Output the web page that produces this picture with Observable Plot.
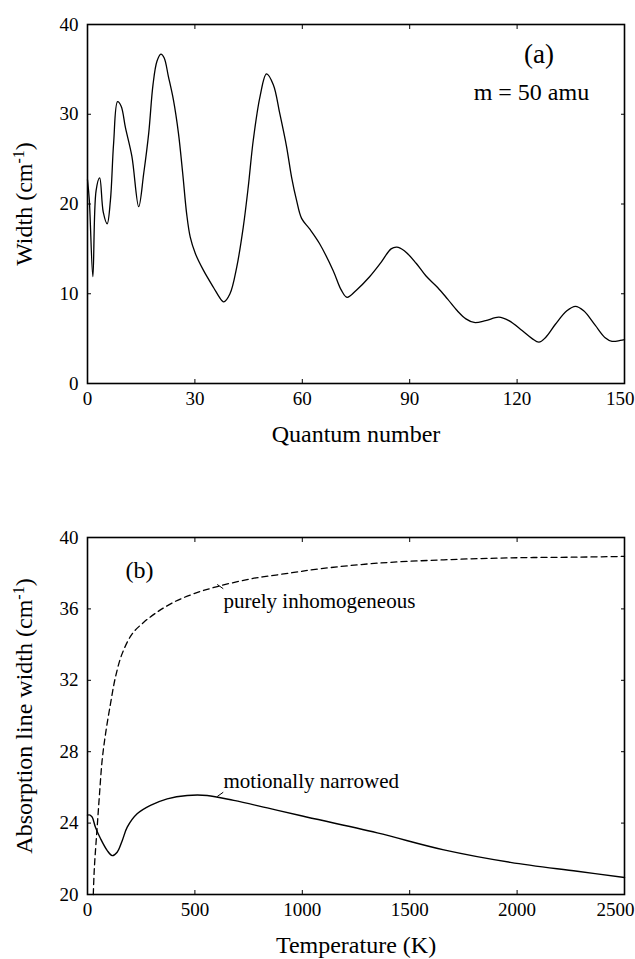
<!DOCTYPE html>
<html>
<head>
<meta charset="utf-8">
<script src="https://cdn.jsdelivr.net/npm/d3@7"></script>
<script src="https://cdn.jsdelivr.net/npm/@observablehq/plot@0.6"></script>
<style>
  body { margin: 0; background: #fff; }
  #chart { width: 635px; }
  #chart svg { display: block; }
  #chart svg text { font-family: "Liberation Serif", "Times New Roman", Times, serif; }
</style>
</head>
<body>
<div id="chart"></div>
<script>
// ---------- Panel (a): width vs quantum number ----------
const quantumN = [0, 0.5, 1.5, 2.4, 3.4, 4.4, 5.5, 6.4, 7.3, 8.4, 9.4, 10.6, 12.4, 14.3, 15.7, 17.1, 18.3, 19.4, 20.5, 21.4,
  22.6, 24.0, 25.4, 26.6, 27.7, 28.7, 30.1, 32.4, 35.2, 37.5, 38.1, 39.8, 41.7, 43.5, 44.9, 46.3, 48.2, 50.0, 51.9, 53.7,
  55.6, 57.0, 58.4, 59.8, 62.1, 64.8, 68.6, 70.9, 72.5, 75.1, 78.8, 82.0, 84.8, 86.4, 88.5, 91.8, 94.5, 97.8, 100.6, 103.3,
  105.7, 108.0, 111.2, 114.9, 117.7, 121.4, 124.2, 126.1, 127.9, 130.7, 133.9, 136.3, 138.6, 141.8, 144.6, 146.5, 148.8, 150];
const widthA = [22.7, 20.5, 11.9, 21.5, 22.9, 19.1, 17.8, 20.4, 26.8, 31.4, 30.9, 28.5, 25.3, 19.7, 23.4, 27.9, 33.3, 35.9, 36.7, 36.3,
  34.2, 31.6, 27.9, 23.4, 18.9, 16.3, 14.5, 12.6, 10.7, 9.25, 9.1, 10.0, 13.0, 17.4, 21.9, 27.1, 32.0, 34.5, 33.3, 30.1,
  26.4, 23.0, 20.4, 18.4, 17.2, 15.6, 12.6, 10.4, 9.6, 10.4, 11.9, 13.5, 15.0, 15.2, 14.8, 13.4, 12.0, 10.7, 9.4, 8.1,
  7.2, 6.8, 7.0, 7.4, 7.0, 5.9, 5.0, 4.6, 5.1, 6.6, 8.1, 8.6, 8.1, 6.5, 5.1, 4.7, 4.8, 4.9];
const xTicksA = [0, 30, 60, 90, 120, 150];
const yTicksA = [0, 10, 20, 30, 40];
const xTitleA = "Quantum number";
const yTitleA = ["Width (cm", "-1", ")"];
const panelLabelA = "(a)";
const massLabel = "m = 50 amu";
const annotAx = [126.1, 124.0];
const annotAy = [36.68, 32.48];

// ---------- Panel (b): absorption line width vs temperature ----------
const tempInhomo = [27, 30, 34, 45, 56, 68, 84, 107, 130, 161, 208, 262, 324, 402, 495, 604, 759, 914, 1085, 1349, 1659, 1969, 2280, 2500];
const widthInhomo = [20.0, 21.0, 21.9, 23.77, 25.64, 27.5, 29.0, 30.68, 32.17, 33.48, 34.6, 35.25, 35.82, 36.38, 36.85, 37.25, 37.68, 37.96, 38.25, 38.56, 38.75, 38.86, 38.9, 38.94];
const tempNarrow = [0, 12, 22, 37, 61, 92, 115, 138, 162, 185, 231, 293, 371, 464, 557, 681, 837, 1000, 1349, 1659, 1969, 2280, 2500];
const widthNarrow = [24.45, 24.45, 24.33, 23.77, 23.12, 22.46, 22.18, 22.37, 23.03, 23.77, 24.52, 24.99, 25.36, 25.55, 25.55, 25.27, 24.85, 24.4, 23.45, 22.5, 21.8, 21.3, 20.95];
const xTicksB = [0, 500, 1000, 1500, 2000, 2500];
const yTicksB = [20, 24, 28, 32, 36, 40];
const xTitleB = "Temperature (K)";
const yTitleB = ["Absorption line width (cm", "-1", ")"];
const panelLabelB = "(b)";
const curveLabels = ["purely inhomogeneous", "motionally narrowed"];
const curveLabelT = [633, 633];
const curveLabelW = [36.40, 26.37];
const leaderT1 = [604, 604], leaderW1 = [37.37, 25.49];
const leaderT2 = [632, 632], leaderW2 = [37.13, 25.73];

// ---------- build ----------
const font = "Liberation Serif, Times New Roman, Times, serif";
const style = {fontFamily: font, fontSize: "19px", color: "black", background: "white", overflow: "visible"};

function frameAxes(xTicks, yTicks) {
  const xIn = xTicks.slice(0, -1), xLast = xTicks.slice(-1);
  return [
    Plot.axisX(xIn, {anchor: "bottom", tickSize: 0, tickPadding: 8, label: null, fontFamily: font, fontSize: 19, tickFormat: d => String(d)}),
    Plot.axisX(xLast, {anchor: "bottom", tickSize: 0, tickPadding: 8, label: null, fontFamily: font, fontSize: 19, tickFormat: d => String(d), textAnchor: "end", dx: 10}),
    Plot.axisX(xTicks, {anchor: "bottom", tickSize: -4, tickFormat: () => "", label: null}),
    Plot.axisX(xTicks, {anchor: "top", tickSize: -4, tickFormat: () => "", label: null}),
    Plot.axisY(yTicks, {anchor: "left", tickSize: 0, tickPadding: 9, label: null, fontFamily: font, fontSize: 19, tickFormat: d => String(d)}),
    Plot.axisY(yTicks, {anchor: "left", tickSize: -4, tickFormat: () => "", label: null}),
    Plot.axisY(yTicks, {anchor: "right", tickSize: -4, tickFormat: () => "", label: null}),
    Plot.frame({stroke: "black", strokeWidth: 1.6})
  ];
}

function superscript(svg, parts) {
  const full = parts.join("");
  const ns = "http://www.w3.org/2000/svg";
  svg.querySelectorAll("text").forEach(t => {
    if (t.textContent === full) {
      t.textContent = "";
      t.appendChild(document.createTextNode(parts[0]));
      const s = document.createElementNS(ns, "tspan");
      s.setAttribute("dy", "-8");
      s.setAttribute("font-size", "16");
      s.textContent = parts[1];
      t.appendChild(s);
      const e = document.createElementNS(ns, "tspan");
      e.setAttribute("dy", "8");
      e.textContent = parts[2];
      t.appendChild(e);
    }
  });
}

const dataA = quantumN.map((n, i) => ({n, w: widthA[i]}));
const annA = [
  {x: annotAx[0], y: annotAy[0], label: panelLabelA},
  {x: annotAx[1], y: annotAy[1], label: massLabel}
];

const plotA = Plot.plot({
  width: 635, height: 460,
  marginLeft: 87, marginRight: 11, marginTop: 24, marginBottom: 77,
  x: {domain: [0, 150]},
  y: {domain: [0, 40]},
  style,
  marks: [
    ...frameAxes(xTicksA, yTicksA),
    Plot.line(dataA, {x: "n", y: "w", curve: "catmull-rom", stroke: "black", strokeWidth: 1.3}),
    Plot.text([xTitleA], {frameAnchor: "bottom", dy: 51, fontSize: 24, fontFamily: font, lineAnchor: "middle", textAnchor: "middle", text: d => d}),
    Plot.text([yTitleA.join("")], {frameAnchor: "left", dx: -63, rotate: -90, fontSize: 24, fontFamily: font, lineAnchor: "middle", textAnchor: "middle", text: d => d}),
    Plot.text([annA[0]], {x: "x", y: "y", text: "label", fontSize: 27, fontFamily: font, lineAnchor: "middle", textAnchor: "middle"}),
    Plot.text([annA[1]], {x: "x", y: "y", text: "label", fontSize: 24, fontFamily: font, lineAnchor: "middle", textAnchor: "middle"})
  ]
});
superscript(plotA, yTitleA);

const inhomo = tempInhomo.map((t, i) => ({t, w: widthInhomo[i]}));
const narrow = tempNarrow.map((t, i) => ({t, w: widthNarrow[i]}));
const labelsB = curveLabels.map((label, i) => ({t: curveLabelT[i], w: curveLabelW[i], label}));
const leaders = leaderT1.map((t1, i) => ({t1, w1: leaderW1[i], t2: leaderT2[i], w2: leaderW2[i]}));

const plotB = Plot.plot({
  width: 635, height: 499,
  marginLeft: 87, marginRight: 11, marginTop: 77, marginBottom: 65,
  x: {domain: [0, 2500]},
  y: {domain: [20, 40]},
  style,
  marks: [
    ...frameAxes(xTicksB, yTicksB),
    Plot.line(inhomo, {x: "t", y: "w", curve: "catmull-rom", stroke: "black", strokeWidth: 1.3, strokeDasharray: "6,4"}),
    Plot.line(narrow, {x: "t", y: "w", curve: "catmull-rom", stroke: "black", strokeWidth: 1.4}),
    Plot.link(leaders, {x1: "t1", y1: "w1", x2: "t2", y2: "w2", stroke: "black", strokeWidth: 1}),
    Plot.text(labelsB, {x: "t", y: "w", text: "label", textAnchor: "start", fontSize: 21, fontFamily: font, lineAnchor: "middle"}),
    Plot.text([panelLabelB], {frameAnchor: "top-left", dx: 52, dy: 33, fontSize: 24, fontFamily: font, lineAnchor: "middle", textAnchor: "middle", text: d => d}),
    Plot.text([xTitleB], {frameAnchor: "bottom", dy: 51, fontSize: 24, fontFamily: font, lineAnchor: "middle", textAnchor: "middle", text: d => d}),
    Plot.text([yTitleB.join("")], {frameAnchor: "left", dx: -63, rotate: -90, fontSize: 24, fontFamily: font, lineAnchor: "middle", textAnchor: "middle", text: d => d})
  ]
});
superscript(plotB, yTitleB);

document.getElementById("chart").append(plotA, plotB);
</script>
</body>
</html>
